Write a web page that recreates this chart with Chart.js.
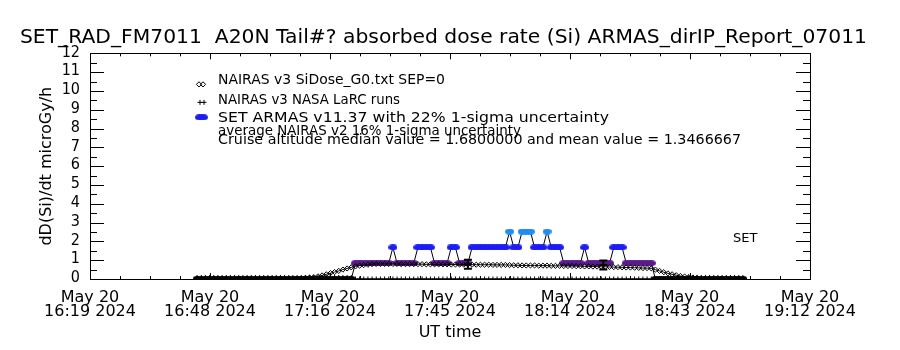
<!DOCTYPE html>
<html>
<head>
<meta charset="utf-8">
<script src="https://cdn.jsdelivr.net/npm/chart.js@4/dist/chart.umd.min.js"></script>
<style>html,body{margin:0;padding:0;background:#fff}canvas{display:block}</style>
</head>
<body>
<canvas id="c" width="900" height="350"></canvas>
<script>
// ---------------- DATA (time = minutes after 16:00 UT, 20 May 2024) ----------------
const minutesUT = [45,46,47,48,49,50,51,52,53,54,55,56,57,58,59,60,61,62,63,64,65,66,67,68,69,70,
  71,72,73,74,75,76,77,78,79,80,81,82,83,84,85,86,87,88,89,90,91,92,93,94,95,96,97,98,99,100,
  101,102,103,104,105,106,107,108,109,110,111,112,113,114,115,116,117,118,119,120,
  121,122,123,124,125,126,127,128,129,130,131,132,133,134,135,136,137,138,139,140,
  141,142,143,144,145,146,147,148,149,150,151,152,153,154,155,156,157,158,159,160,
  161,162,163,164,165,166,167,168,169,170,171,172,173,174,175,176];

// NAIRAS v3 SiDose_G0.txt SEP=0 (diamonds)
const nairasSiDose = [0.01,0.01,0.01,0.01,0.01,0.01,0.01,0.01,0.01,0.01,0.01,0.01,0.01,0.01,0.01,0.01,0.01,0.01,0.01,0.01,0.01,0.01,0.01,0.01,0.01,0.01,
  0.06,0.08,0.10,0.14,0.19,0.25,0.31,0.37,0.43,0.50,0.56,0.62,0.67,0.71,0.74,0.76,
  0.79,0.80,0.80,0.80,0.80,0.80,0.80,0.79,0.79,0.79,0.79,0.79,0.79,0.78,
  0.78,0.78,0.78,0.78,0.78,0.77,0.77,0.77,0.77,0.77,0.76,0.76,0.76,0.76,0.76,0.75,0.75,0.75,0.75,0.74,
  0.73,0.73,0.72,0.72,0.72,0.72,0.71,0.71,0.71,0.70,0.70,0.70,0.69,0.69,0.69,0.68,0.68,0.67,0.67,0.66,
  0.66,0.65,0.65,0.64,0.63,0.63,0.62,0.61,0.61,0.60,0.59,0.58,0.58,0.57,
  0.50,0.43,0.36,0.30,0.25,0.20,0.16,0.13,0.10,0.08,0.06,
  0.01,0.01,0.01,0.01,0.01,0.01,0.01,0.01,0.01,0.01,0.01];

// NAIRAS v3 NASA LaRC runs (plus signs)
const nairasLaRC = [0.08,0.08,0.08,0.08,0.08,0.08,0.08,0.08,0.08,0.08,0.08,0.08,0.08,0.08,0.08,0.08,0.08,0.08,0.08,
  0.08,0.08,0.08,0.08,0.08,0.08,0.08,0.08,0.08,0.08,0.08,0.08,0.08,0.08,0.08,0.08,0.08,0.08,0.08,
  0,0,0,0,0,0,0,0,0,0,0,0,0,0,0,0,0,0,0,0,0,0,0,0,0,0,0,0,0,0,0,0,0,0,0,0,0,0,0,0,
  0,0,0,0,0,0,0,0,0,0,0,0,0,0,0,0,0,0,0,0,0,0,0,0,0,0,0,0,0,0,0,0,0,0,0,0,0,0,0,0,
  0.08,0.08,0.08,0.08,0.08,0.08,0.08,0.08,0.08,0.08,0.08,0.08,0.08,0.08,0.08,0.08,0.08,0.08,0.08,0.08,0.08,0.08];

// SET ARMAS v11.37 absorbed dose rate
const armasDose = [0,0,0,0,0,0,0,0,0,0,0,0,0,0,0,0,0,0,0,0,0,0,0,0,0,0,0,0,0,0,0,0,0,0,0,0,0,0,
  0.84,0.84,0.84,0.84,0.84,0.84,0.84,0.84,0.84,
  1.68,
  0.84,0.84,0.84,0.84,0.84,
  1.68,1.68,1.68,1.68,
  0.84,0.84,0.84,0.84,
  1.68,1.68,
  0.84,0.84,0.84,
  1.68,1.68,1.68,1.68,1.68,1.68,1.68,1.68,1.68,
  2.52,
  1.68,1.68,
  2.52,2.52,2.52,
  1.68,1.68,1.68,
  2.52,
  1.68,1.68,1.68,
  0.84,0.84,0.84,0.84,0.84,
  1.68,
  0.84,0.84,0.84,0.84,0.84,0.84,
  1.68,1.68,1.68,
  0.84,0.84,0.84,0.84,0.84,0.84,0.84,
  0,0,0,0,0,0,0,0,0,0,0,0,0,0,0,0,0,0,0,0,0,0];

// average NAIRAS v2 with 1-sigma uncertainty bars
const errMinutes = [110, 142.5];
const errDose = [0.78, 0.75];
const errSigma = [0.24, 0.24];

// axis ticks
const xTickMinutes = [19.3, 48.1, 76.9, 105.7, 134.5, 163.3, 192.1];
const xTickDay = 'May 20';
const xTickTimes = ['16:19 2024', '16:48 2024', '17:16 2024', '17:45 2024', '18:14 2024', '18:43 2024', '19:12 2024'];
const yMin = 0, yMax = 12;

// texts
const titleText = 'SET_RAD_FM7011  A20N Tail#? absorbed dose rate (Si) ARMAS_dirIP_Report_07011';
const seriesNames = ['NAIRAS v3 SiDose_G0.txt SEP=0', 'NAIRAS v3 NASA LaRC runs', 'SET ARMAS v11.37 with 22% 1-sigma uncertainty'];
const noteLines = ['average NAIRAS v2 16% 1-sigma uncertainty', 'Cruise altitude median value = 1.6800000 and mean value = 1.3466667'];
const cornerLabel = 'SET';

// ---------------- STYLE ----------------
const FONT = '"DejaVu Sans", sans-serif';
const NARROW = '"Liberation Sans Narrow", "DejaVu Sans Condensed", "Liberation Sans", sans-serif';
const COL_ZERO = '#000000', COL_LOW = '#5a1a8e', COL_MID = '#1c1cf4', COL_HIGH = '#1e8cf4';

function ellipseImg(color) {
  const c = document.createElement('canvas');
  c.width = 9; c.height = 6;
  const g = c.getContext('2d');
  g.fillStyle = color;
  g.beginPath();
  g.ellipse(4.5, 3, 4.5, 3, 0, 0, Math.PI * 2);
  g.fill();
  return c;
}
const ellipses = { zero: ellipseImg(COL_ZERO), low: ellipseImg(COL_LOW), mid: ellipseImg(COL_MID), high: ellipseImg(COL_HIGH) };
function armasStyle(v) {
  if (v < 0.2) return ellipses.zero;
  if (v < 1.2) return ellipses.low;
  if (v < 2.1) return ellipses.mid;
  return ellipses.high;
}

const pts = arr => minutesUT.map((m, i) => ({ x: m, y: arr[i] }));

// draw a legend line stretched horizontally to the given width (layout only)
function fitText(ctx, text, x, y, width) {
  const w = ctx.measureText(text).width;
  ctx.save();
  ctx.translate(x, y);
  ctx.scale(width / w, 1);
  ctx.fillText(text, 0, 0);
  ctx.restore();
}

const frameTicks = {
  id: 'frameTicks',
  afterDatasetsDraw(chart) {
    const { ctx, chartArea: a, scales: { x, y } } = chart;
    ctx.save();
    ctx.strokeStyle = '#000';
    ctx.lineWidth = 1;
    ctx.strokeRect(Math.round(a.left) + 0.5, Math.round(a.top) + 0.5, Math.round(a.right - a.left), Math.round(a.bottom - a.top));
    ctx.beginPath();
    for (let v = yMin; v <= yMax; v += 0.5) {
      const py = Math.round(y.getPixelForValue(v)) + 0.5;
      const len = Number.isInteger(v) ? 14 : 7;
      ctx.moveTo(a.left, py); ctx.lineTo(a.left + len, py);
      ctx.moveTo(a.right, py); ctx.lineTo(a.right - len, py);
    }
    for (let i = 0; i < xTickMinutes.length; i++) {
      const px = Math.round(x.getPixelForValue(xTickMinutes[i])) + 0.5;
      ctx.moveTo(px, a.bottom); ctx.lineTo(px, a.bottom - 6);
      ctx.moveTo(px, a.top); ctx.lineTo(px, a.top + 6);
      if (i < xTickMinutes.length - 1) {
        const step = (xTickMinutes[i + 1] - xTickMinutes[i]) / 4;
        for (let k = 1; k < 4; k++) {
          const q = Math.round(x.getPixelForValue(xTickMinutes[i] + k * step)) + 0.5;
          ctx.moveTo(q, a.bottom); ctx.lineTo(q, a.bottom - 3);
          ctx.moveTo(q, a.top); ctx.lineTo(q, a.top + 3);
        }
      }
    }
    ctx.stroke();

    // error bars
    ctx.lineWidth = 2;
    ctx.beginPath();
    for (let i = 0; i < errMinutes.length; i++) {
      const px = x.getPixelForValue(errMinutes[i]);
      const t = y.getPixelForValue(errDose[i] + errSigma[i]);
      const b = y.getPixelForValue(errDose[i] - errSigma[i]);
      const c = y.getPixelForValue(errDose[i]);
      ctx.moveTo(px, t); ctx.lineTo(px, b);
      ctx.moveTo(px - 4, t); ctx.lineTo(px + 4, t);
      ctx.moveTo(px - 4, b); ctx.lineTo(px + 4, b);
      ctx.moveTo(px - 4, c); ctx.lineTo(px + 4, c);
    }
    ctx.stroke();
    ctx.restore();
  },
  afterDraw(chart) {
    const { ctx, chartArea: a } = chart;
    const ds = chart.data.datasets;
    ctx.save();
    const sx = a.left + 108, tx = a.left + 128;
    // symbols
    ctx.strokeStyle = '#000'; ctx.fillStyle = 'rgba(0,0,0,0)'; ctx.lineWidth = 1;
    [0, 4].forEach(d => Chart.helpers.drawPoint(ctx, { pointStyle: ds[0].pointStyle, radius: 2.6, borderWidth: 1, rotation: 0 }, sx + 1 + d, a.top + 31));
    [0, 4].forEach(d => Chart.helpers.drawPoint(ctx, { pointStyle: ds[1].pointStyle, radius: 2.5, borderWidth: 1, rotation: 0 }, sx + 2 + d, a.top + 49));
    [0, 4].forEach(d => ctx.drawImage(ellipses.mid, sx - 3 + d, a.top + 61));
    // texts
    ctx.fillStyle = '#000';
    ctx.font = '13.8px ' + FONT;
    ctx.textAlign = 'left'; ctx.textBaseline = 'middle';
    fitText(ctx, seriesNames[0], tx, a.top + 27, 227);
    fitText(ctx, seriesNames[1], tx, a.top + 47, 182);
    fitText(ctx, seriesNames[2], tx, a.top + 65, 391);
    fitText(ctx, noteLines[0], tx, a.top + 78, 303);
    fitText(ctx, noteLines[1], tx, a.top + 87, 523);
    ctx.font = '13px ' + FONT;
    ctx.fillText(cornerLabel, a.left + 643, a.top + 185);
    ctx.restore();
  }
};

Chart.defaults.color = '#000';
Chart.defaults.font.family = FONT;

new Chart(document.getElementById('c'), {
  type: 'scatter',
  data: {
    datasets: [
      { label: seriesNames[0], data: pts(nairasSiDose), showLine: true, borderColor: '#000', borderWidth: 1,
        pointStyle: 'rectRot', pointRadius: 2.6, pointBorderColor: '#000', pointBackgroundColor: 'rgba(0,0,0,0)', pointBorderWidth: 1, order: 0 },
      { label: seriesNames[1], data: pts(nairasLaRC), showLine: true, borderColor: '#000', borderWidth: 1,
        pointStyle: 'cross', pointRadius: 2.5, pointBorderColor: '#000', pointBorderWidth: 1, order: 1 },
      { label: seriesNames[2], data: pts(armasDose), showLine: true, borderColor: '#000', borderWidth: 1,
        pointStyle: ctx => armasStyle(ctx.parsed ? ctx.parsed.y : 0), pointRadius: 4, order: 2 }
    ]
  },
  options: {
    responsive: false, animation: false, devicePixelRatio: 1, events: [],
    layout: { padding: { left: 20, right: 0, top: 0, bottom: 0 } },
    plugins: {
      legend: { display: false }, tooltip: { enabled: false },
      title: { display: true, text: titleText, align: 'start', color: '#000',
        font: { family: FONT, size: 20.3, weight: 'normal', lineHeight: 1.2 }, padding: { top: 26, bottom: 3 } }
    },
    scales: {
      x: {
        type: 'linear', min: xTickMinutes[0], max: xTickMinutes[xTickMinutes.length - 1],
        afterBuildTicks: s => { s.ticks = xTickMinutes.map(v => ({ value: v })); },
        afterFit: s => { s.height = 71; s.paddingLeft = 0; s.paddingRight = 90; },
        grid: { display: false, drawTicks: false }, border: { display: false },
        ticks: { autoSkip: false, maxRotation: 0, minRotation: 0, padding: 12, color: '#000',
          font: { family: FONT, size: 16, lineHeight: '14px' },
          callback: (v, i) => [xTickDay, xTickTimes[i]] },
        title: { display: true, text: 'UT time', color: '#000', font: { family: FONT, size: 16 }, padding: { top: 0, bottom: 8 } }
      },
      y: {
        min: yMin, max: yMax,
        afterFit: s => { s.width = 70; s.paddingTop = 0; s.paddingBottom = 0; },
        grid: { display: false, drawTicks: false }, border: { display: false },
        ticks: { stepSize: 1, autoSkip: false, padding: 10, labelOffset: -1, color: '#000', font: { family: NARROW, size: 16 } },
        title: { display: true, text: 'dD(Si)/dt microGy/h', color: '#000', font: { family: FONT, size: 16 }, padding: { top: 17, bottom: 0 } }
      }
    }
  },
  plugins: [frameTicks]
});
</script>
</body>
</html>
